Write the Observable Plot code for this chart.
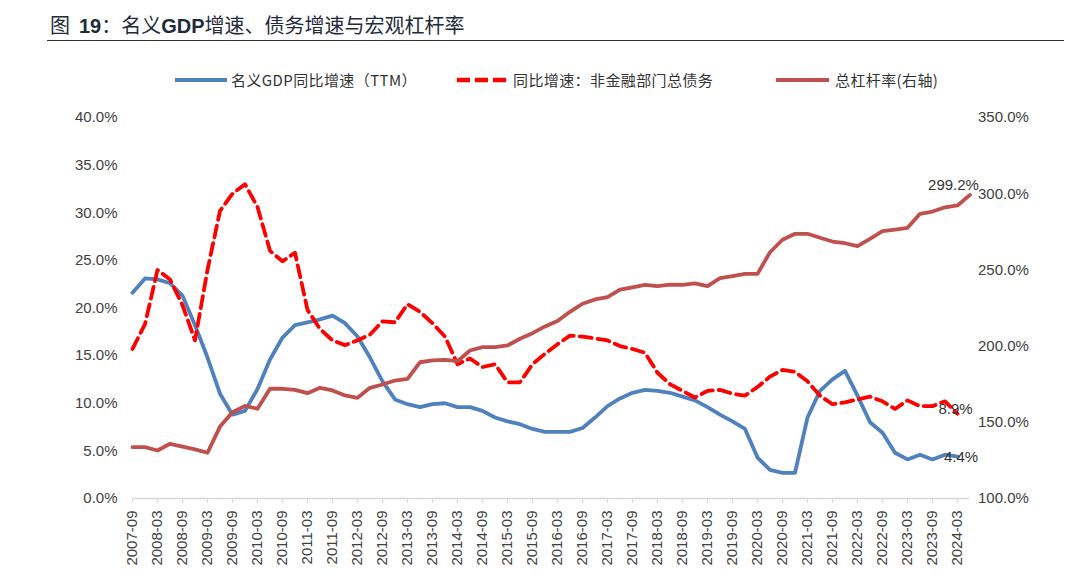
<!DOCTYPE html>
<html>
<head>
<meta charset="utf-8">
<script src="https://cdn.jsdelivr.net/npm/d3@7"></script>
<script src="https://cdn.jsdelivr.net/npm/@observablehq/plot@0.6"></script>
<style>
  body { margin: 0; background: #fff; width: 1074px; height: 586px; overflow: hidden; }
  #header { position: relative; height: 100px; }
  #title { position: absolute; left: 50px; top: 11px; font-size: 20px; line-height: 28px; color: #1f2b3b;
           font-family: "Noto Sans CJK SC", sans-serif; white-space: nowrap; }
  #title b { font-family: "Liberation Sans", Arial, sans-serif; font-weight: bold; }
  #rule { position: absolute; left: 47px; width: 1017px; top: 40px; border-top: 1.5px solid #333; }
  .leg { position: absolute; top: 70px; line-height: 20px; font-size: 15px; color: #333;
         font-family: "Noto Sans CJK SC", sans-serif; white-space: nowrap; letter-spacing: 0.4px; }
  .sw { position: absolute; top: 78px; height: 4px; }
  #chart { position: relative; }
</style>
</head>
<body>
<div id="header">
  <div id="title">图&nbsp;&nbsp;<b>19</b>：名义<b>GDP</b>增速、债务增速与宏观杠杆率</div>
  <div id="rule"></div>
  <div class="sw" style="left:175px;width:52px;background:#4f81bd;"></div>
  <div class="leg" style="left:231px;">名义GDP同比增速（TTM）</div>
  <svg style="position:absolute;left:457px;top:76px;" width="50" height="8">
    <line x1="0" x2="50" y1="4" y2="4" stroke="#ff0000" stroke-width="4.5" stroke-dasharray="13,5"></line>
  </svg>
  <div class="leg" style="left:513px;">同比增速：非金融部门总债务</div>
  <div class="sw" style="left:776px;width:53px;background:#c0504d;"></div>
  <div class="leg" style="left:835px;">总杠杆率(右轴)</div>
</div>
<div id="chart"></div>
<script>
// Quarterly categories
const quarters = [
  "2007-09","2007-12",
  "2008-03","2008-06","2008-09","2008-12",
  "2009-03","2009-06","2009-09","2009-12",
  "2010-03","2010-06","2010-09","2010-12",
  "2011-03","2011-06","2011-09","2011-12",
  "2012-03","2012-06","2012-09","2012-12",
  "2013-03","2013-06","2013-09","2013-12",
  "2014-03","2014-06","2014-09","2014-12",
  "2015-03","2015-06","2015-09","2015-12",
  "2016-03","2016-06","2016-09","2016-12",
  "2017-03","2017-06","2017-09","2017-12",
  "2018-03","2018-06","2018-09","2018-12",
  "2019-03","2019-06","2019-09","2019-12",
  "2020-03","2020-06","2020-09","2020-12",
  "2021-03","2021-06","2021-09","2021-12",
  "2022-03","2022-06","2022-09","2022-12",
  "2023-03","2023-06","2023-09","2023-12",
  "2024-03","2024-06"
];

// 名义GDP同比增速（TTM）, % (left axis), 2007-09 .. 2024-03
const gdpGrowth = [
  21.6, 23.1, 23.0, 22.6, 21.3, 18.2, 14.8, 11.0, 8.8, 9.2,
  11.5, 14.6, 16.9, 18.2, 18.5, 18.8, 19.2, 18.4, 17.0, 14.8,
  12.3, 10.4, 9.9, 9.6, 9.9, 10.0, 9.6, 9.6, 9.2, 8.5,
  8.1, 7.8, 7.3, 7.0, 7.0, 7.0, 7.4, 8.5, 9.7, 10.5,
  11.1, 11.4, 11.3, 11.1, 10.7, 10.3, 9.6, 8.8, 8.1, 7.3,
  4.3, 3.0, 2.7, 2.7, 8.5, 11.3, 12.5, 13.4, 10.8, 8.0,
  6.9, 4.8, 4.1, 4.6, 4.1, 4.6, 4.4
];

// 同比增速：非金融部门总债务, % (left axis), 2007-09 .. 2024-03
const debtGrowth = [
  15.7, 18.3, 24.0, 23.0, 20.3, 16.6, 24.0, 30.2, 32.0, 33.0,
  30.6, 26.0, 24.9, 25.8, 19.8, 17.8, 16.6, 16.1, 16.6, 17.2,
  18.6, 18.5, 20.4, 19.6, 18.4, 17.0, 14.1, 14.7, 13.8, 14.1,
  12.2, 12.2, 14.1, 15.2, 16.2, 17.1, 17.0, 16.8, 16.6, 16.0,
  15.7, 15.3, 13.2, 12.0, 11.3, 10.6, 11.3, 11.4, 11.0, 10.8,
  11.7, 12.8, 13.5, 13.3, 12.3, 10.8, 9.9, 10.1, 10.4, 10.7,
  10.2, 9.4, 10.3, 9.7, 9.7, 10.2, 8.9
];

// 总杠杆率(右轴), % (right axis), 2007-09 .. 2024-06
const leverage = [
  133.7, 133.7, 131.5, 135.9, 134.1, 132.2, 130.0, 147.2, 156.6, 160.8,
  158.9, 172.0, 172.0, 171.3, 169.1, 172.6, 170.9, 167.6, 166.1, 172.6,
  174.8, 177.4, 178.5, 189.4, 190.6, 191.0, 190.1, 197.1, 199.3, 199.3,
  200.4, 204.8, 208.5, 212.9, 216.5, 222.5, 227.8, 230.6, 232.1, 237.1,
  238.6, 240.2, 239.3, 240.4, 240.2, 241.1, 239.3, 244.6, 245.9, 247.4,
  247.4, 261.6, 269.8, 273.7, 273.7, 271.1, 268.6, 267.5, 265.6, 270.4,
  275.4, 276.5, 277.6, 286.8, 288.3, 291.1, 292.3, 299.2
];

// Axis ticks
const leftTicks = [0, 5, 10, 15, 20, 25, 30, 35, 40];
const rightTicks = [100, 150, 200, 250, 300, 350];
const xTicks = quarters.filter(q => q.endsWith("-03") || q.endsWith("-09"));

// Map right-axis values onto the left-axis scale
const leftMax = 40, rightMin = 100, rightMax = 350;
const toLeft = v => (v - rightMin) / (rightMax - rightMin) * leftMax;
const toRight = v => rightMin + v / leftMax * (rightMax - rightMin);

const gdpRows = gdpGrowth.map((v, i) => ({q: quarters[i], v}));
const debtRows = debtGrowth.map((v, i) => ({q: quarters[i], v}));
const levRows = leverage.map((v, i) => ({q: quarters[i], v}));

const fmt = d => d.toFixed(1) + "%";

const chart = Plot.plot({
  width: 1074,
  height: 486,
  marginLeft: 132,
  marginRight: 104.5,
  marginTop: 17,
  marginBottom: 88,
  x: {type: "point", domain: quarters, padding: 0, label: null},
  y: {domain: [0, leftMax], label: null},
  style: {fontFamily: "'Liberation Sans', Arial, sans-serif", fontSize: "15px", color: "#404040", background: "#fff"},
  marks: [
    Plot.ruleY([0], {stroke: "#d9d9d9", strokeWidth: 1.5}),
    Plot.axisX({ticks: xTicks, tickSize: 5, stroke: "#d9d9d9", strokeWidth: 1.2, text: null, label: null}),
    Plot.axisX({ticks: xTicks, tickSize: 0, tickPadding: 12, tickRotate: -90, fill: "#404040", fontSize: 15, label: null}),
    Plot.axisY({anchor: "left", ticks: leftTicks, tickSize: 0, tickPadding: 15, tickFormat: fmt, fill: "#404040", label: null}),
    Plot.axisY({anchor: "right", ticks: rightTicks.map(toLeft), tickSize: 0, tickPadding: 8,
                tickFormat: d => fmt(toRight(d)), fill: "#404040", label: null}),
    Plot.line(gdpRows, {x: "q", y: "v", stroke: "#4f81bd", strokeWidth: 3.8, strokeLinejoin: "round"}),
    Plot.line(debtRows, {x: "q", y: "v", stroke: "#ff0000", strokeWidth: 3.8, strokeDasharray: "12,6", strokeLinejoin: "round"}),
    Plot.line(levRows, {x: "q", y: d => toLeft(d.v), stroke: "#c0504d", strokeWidth: 3.8, strokeLinejoin: "round"}),
    Plot.text([levRows[levRows.length - 1]], {x: "q", y: d => toLeft(d.v), text: d => fmt(d.v), dx: -16.5, dy: -9.5, fontSize: 15, fill: "#333"}),
    Plot.text([debtRows[debtRows.length - 1]], {x: "q", y: "v", text: d => fmt(d.v), dx: -2, dy: -5, fontSize: 15, fill: "#333"}),
    Plot.text([gdpRows[gdpRows.length - 1]], {x: "q", y: "v", text: d => fmt(d.v), dx: 3.5, dy: 1, fontSize: 15, fill: "#333"})
  ]
});
document.getElementById("chart").appendChild(chart);
</script>
</body>
</html>
